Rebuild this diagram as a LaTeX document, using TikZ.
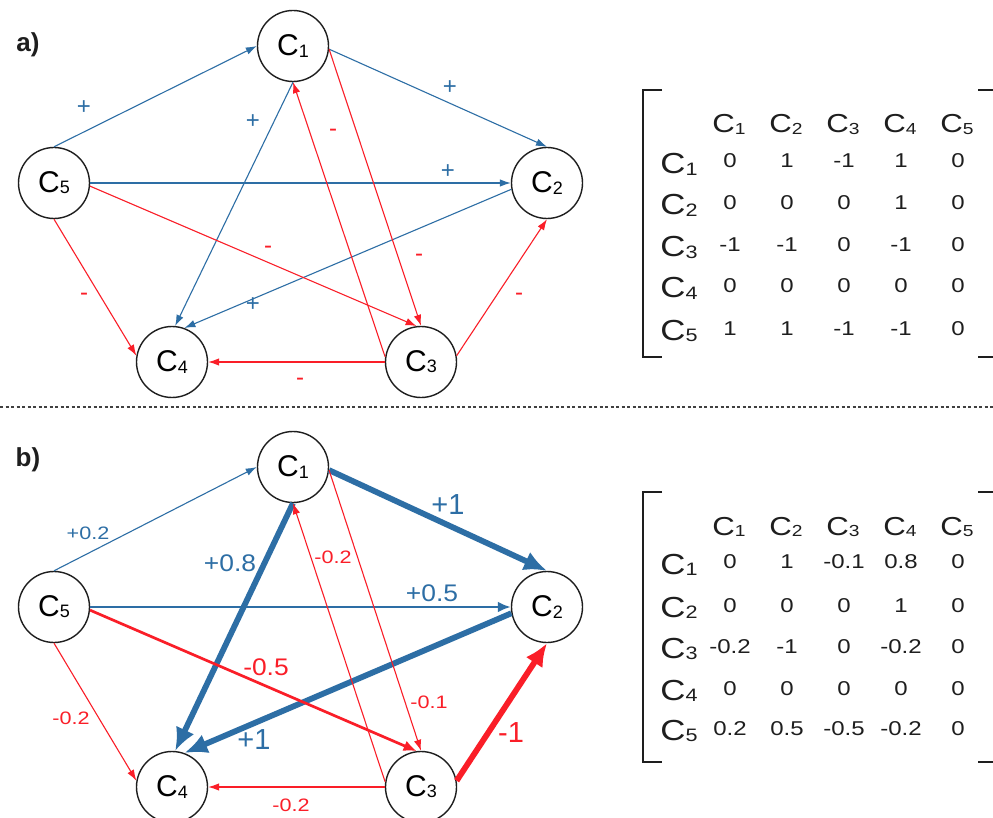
\documentclass[tikz,border=0pt]{standalone}
\usepackage{fontspec}
\setmainfont{Liberation Sans}
\newfontfamily\wide[FakeStretch=1.2]{Liberation Sans}
\newfontfamily\semiwide[FakeStretch=1.1]{Liberation Sans}
\usetikzlibrary{arrows.meta}
\definecolor{eblue}{RGB}{45,110,165}
\definecolor{ered}{RGB}{250,30,40}
\definecolor{ink}{RGB}{30,30,30}
\newcommand{\Cn}[2]{C\raisebox{-1.2pt}{\fontsize{#1}{#1}\selectfont #2}}
\begin{document}
\begin{tikzpicture}[x=1pt,y=-1pt,
  concept/.style={circle,draw=ink,line width=1.4pt,minimum size=71pt,inner sep=0pt,fill=white,font=\fontsize{30}{30}\selectfont},
  panel/.style={font=\bfseries\fontsize{26}{26}\selectfont,text=ink},
  thinb/.style={eblue,line width=1.1pt,-{Latex[length=11pt,width=7.5pt]}},
  thinr/.style={ered,line width=1.1pt,-{Latex[length=11pt,width=7.5pt]}},
  midb/.style={eblue,line width=2.7pt,-{Latex[length=13pt,width=11pt]}},
  midr/.style={ered,line width=2.7pt,-{Latex[length=13pt,width=11pt]}},
  thickb/.style={eblue,line width=5.8pt,-{Latex[length=23pt,width=20pt]}},
  thickr/.style={ered,line width=5.8pt,-{Latex[length=23pt,width=20pt]}},
  labA/.style={font=\fontsize{24}{24}\selectfont},
  labS/.style={font=\wide\fontsize{18}{18}\selectfont},
  labL/.style={font=\semiwide\fontsize{24}{24}\selectfont},
  labX/.style={font=\fontsize{29}{29}\selectfont},
  mhead/.style={anchor=base,font=\wide\fontsize{26}{26}\selectfont,text=ink,inner sep=0pt},
  mrow/.style={anchor=base,font=\wide\fontsize{29}{29}\selectfont,text=ink,inner sep=0pt},
  mval/.style={anchor=base,font=\wide\fontsize{20}{20}\selectfont,text=ink,inner sep=0pt},
  bracket/.style={ink,line width=2pt}]
\useasboundingbox (0,0) rectangle (993,818);
\fill[white] (0,0) rectangle (993,818);

% ---------- panel a ----------
\node[panel] (pa) at (28,45) {a)};
\node[concept] (a1) at (293,46) {\Cn{18}{1}};
\node[concept] (a2) at (547,183) {\Cn{18}{2}};
\node[concept] (a3) at (421,362) {\Cn{18}{3}};
\node[concept] (a4) at (172,362) {\Cn{18}{4}};
\node[concept] (a5) at (54,183) {\Cn{18}{5}};

\draw[thinb] (a5.north) -- (a1.west);
\draw[thinb] (a1.-5) -- (a2.north);
\draw[thinb] (a5.east) -- (a2.west);
\draw[thinb] (a1.south) -- (a4.85);
\draw[thinb] (a2.190) -- (a4.70);
\draw[thinr] (a1.-5) -- (a3.north);
\draw[thinr] (a3.172) -- (a1.south);
\draw[thinr] (a5.-5) -- (a3.97);
\draw[thinr] (a5.south) -- (a4.170);
\draw[thinr] (a3.10) -- (a2.south);
\draw[thinr] (a3.west) -- (a4.east);

\node[labA,eblue] (la1) at (84,108) {+};
\node[labA,eblue] (la2) at (253,122) {+};
\node[labA,ered] (la3) at (333,133) {-};
\node[labA,eblue] (la4) at (450,88) {+};
\node[labA,eblue] (la5) at (448,172) {+};
\node[labA,ered] (la6) at (268,250) {-};
\node[labA,ered] (la7) at (419,258) {-};
\node[labA,ered] (la8) at (84,297) {-};
\node[labA,eblue] (la9) at (253,305) {+};
\node[labA,ered] (la10) at (519,297) {-};
\node[labA,ered] (la11) at (300,382) {-};

% matrix a
\draw[bracket] (662,90) -- (643,90) -- (643,357) -- (662,357);
\draw[bracket] (978,90) -- (995,90);
\draw[bracket] (978,357) -- (995,357);
\foreach \j/\x in {1/729,2/786,3/843,4/900,5/957}
  \node[mhead] (ah\j) at (\x,133) {\Cn{16}{\j}};
\foreach \i/\y in {1/174,2/215,3/257,4/298,5/340}
  \node[mrow] (ar\i) at (679,\y) {\Cn{18}{\i}};
\foreach \i/\y/\vals in {1/168/{0,1,-1,1,0},2/210/{0,0,0,1,0},3/252/{-1,-1,0,-1,0},4/293/{0,0,0,0,0},5/335/{1,1,-1,-1,0}}{
  \foreach \v [count=\j] in \vals {
    \pgfmathsetmacro{\xx}{673+57*\j}
    \node[mval] (av\i-\j) at (\xx,\y) {\v};
  }
}

% separator
\coordinate (sepL) at (0,407);
\coordinate (sepR) at (993,407);
\draw[ink!85,line width=1.4pt,dash pattern=on 3pt off 2.5pt] (sepL) -- (sepR);

% ---------- panel b ----------
\node[panel] (pb) at (28,460) {b)};
\node[concept] (b1) at (293,467) {\Cn{18}{1}};
\node[concept] (b2) at (547,607) {\Cn{18}{2}};
\node[concept] (b3) at (421,787) {\Cn{18}{3}};
\node[concept] (b4) at (172,787) {\Cn{18}{4}};
\node[concept] (b5) at (54,607) {\Cn{18}{5}};

\draw[thinb] (b5.north) -- (b1.west);
\draw[thickb] (b1.-5) -- (b2.north);
\draw[midb] (b5.east) -- (b2.west);
\draw[thickb] (b1.south) -- (b4.85);
\draw[thickb] (b2.190) -- (b4.70);
\draw[thinr] (b1.-5) -- (b3.north);
\draw[thinr] (b3.172) -- (b1.south);
\draw[midr] (b5.-5) -- (b3.97);
\draw[thinr] (b5.south) -- (b4.170);
\draw[thickr] (b3.10) -- (b2.south);
\draw[thinr] (b3.west) -- (b4.east);

\node[labS,eblue] (lb1) at (88,533) {+0.2};
\node[labX,eblue] (lb2) at (448,505) {+1};
\node[labL,eblue] (lb3) at (432,593) {+0.5};
\node[labL,eblue] (lb4) at (230,563) {+0.8};
\node[labX,eblue] (lb5) at (254,740) {+1};
\node[labS,ered] (lb6) at (429,702) {-0.1};
\node[labS,ered] (lb7) at (333,557) {-0.2};
\node[labL,ered] (lb8) at (266,667) {-0.5};
\node[labS,ered] (lb9) at (71,718) {-0.2};
\node[labX,ered] (lb10) at (511,733) {-1};
\node[labS,ered] (lb11) at (291,805) {-0.2};

% matrix b
\draw[bracket] (662,492) -- (643,492) -- (643,762) -- (662,762);
\draw[bracket] (978,492) -- (995,492);
\draw[bracket] (978,762) -- (995,762);
\foreach \j/\x in {1/729,2/786,3/843,4/900,5/957}
  \node[mhead] (bh\j) at (\x,535) {\Cn{16}{\j}};
\foreach \i/\y in {1/574,2/617,3/658,4/700,5/740}
  \node[mrow] (br\i) at (679,\y) {\Cn{18}{\i}};
\foreach \i/\y/\vals in {1/568/{0,1,-0.1,0.8,0},2/612/{0,0,0,1,0},3/653/{-0.2,-1,0,-0.2,0},4/695/{0,0,0,0,0},5/735/{0.2,0.5,-0.5,-0.2,0}}{
  \foreach \v [count=\j] in \vals {
    \pgfmathsetmacro{\xx}{673+57*\j}
    \node[mval] (bv\i-\j) at (\xx,\y) {\v};
  }
}
\end{tikzpicture}
\end{document}
